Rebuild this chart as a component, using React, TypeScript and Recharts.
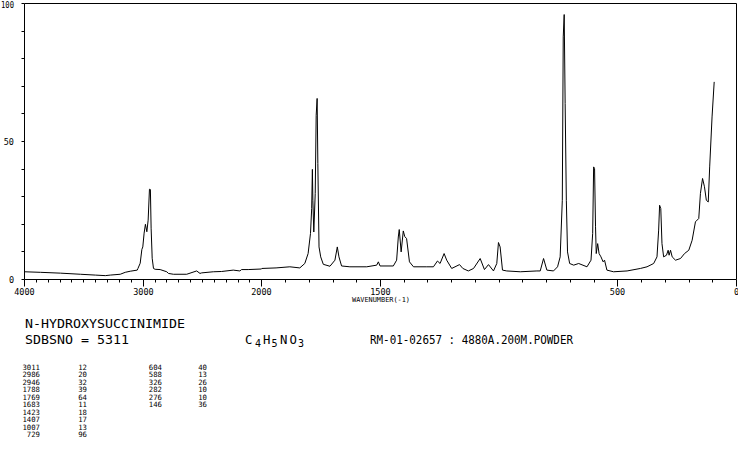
import React from 'react';
import { LineChart, Line, XAxis, YAxis, ReferenceLine } from 'recharts';

// spectrum (cm-1, relative intensity)
const wavenumbers = [
  4000, 3866, 3697, 3529, 3403, 3319, 3277, 3193, 3151, 3109, 3050, 3044, 3025, 3011, 3003,
  2992, 2981, 2969, 2958, 2947, 2939, 2933, 2924, 2913, 2899, 2857, 2801, 2787, 2745, 2633,
  2549, 2521, 2507, 2409, 2339, 2241, 2185, 2171, 2115, 2003, 2000, 1940, 1882, 1840, 1819,
  1805, 1795, 1790, 1787, 1785, 1781, 1775, 1771, 1767, 1764, 1759, 1752, 1741, 1713, 1692,
  1682, 1675, 1664, 1629, 1558, 1516, 1509, 1502, 1446, 1432, 1425, 1421, 1413, 1404, 1398,
  1390, 1378, 1361, 1305, 1277, 1260, 1249, 1232, 1221, 1200, 1167, 1153, 1130, 1108, 1080,
  1062, 1045, 1024, 1010, 1003, 996, 986, 968, 911, 841, 827, 813, 799, 771, 754,
  743, 734, 730, 726, 722, 717, 712, 703, 686, 665, 630, 613, 606, 602, 598,
  594, 591, 585, 579, 571, 562, 556, 546, 518, 461, 405, 377, 349, 335, 328,
  324, 319, 314, 307, 295, 288, 284, 278, 271, 257, 236, 219, 201, 187, 173,
  159, 152, 143, 135, 127, 119, 113, 103, 94,
];
const intensities = [
  2.8, 2.6, 2.3, 1.9, 1.6, 1.4, 1.6, 1.9, 2.6, 3.0, 3.4, 4.0, 5.9, 10.9, 11.8,
  16.8, 20.0, 17.3, 21.5, 32.7, 32.6, 18.6, 7.7, 4.0, 3.7, 3.6, 2.8, 2.2, 1.9, 1.9,
  3.1, 2.2, 2.4, 2.8, 2.9, 3.4, 3.1, 3.6, 3.6, 3.8, 4.0, 4.2, 4.6, 4.2, 5.8,
  9.4, 16.7, 25.7, 39.9, 28.7, 17.2, 31.2, 59.5, 65.6, 42.0, 11.8, 8.2, 5.5, 4.8, 7.0,
  11.8, 8.2, 4.9, 4.6, 4.6, 5.2, 6.4, 4.9, 4.9, 7.0, 15.4, 18.1, 10.0, 17.6, 15.6,
  14.8, 6.4, 4.6, 4.6, 4.6, 6.7, 5.8, 9.4, 7.0, 4.0, 5.4, 4.0, 3.1, 4.0, 7.6,
  3.6, 5.4, 3.1, 5.8, 13.4, 11.8, 3.4, 3.1, 2.8, 3.1, 3.1, 7.6, 3.4, 3.1, 4.6,
  8.2, 28.7, 87.9, 96.0, 63.8, 28.7, 10.0, 5.8, 5.2, 5.8, 4.6, 7.0, 16.7, 40.8, 40.2,
  19.1, 9.4, 13.0, 9.4, 8.2, 6.4, 7.0, 3.4, 2.8, 3.1, 4.0, 4.6, 5.8, 8.2, 17.9,
  26.9, 25.7, 13.0, 8.2, 8.8, 10.6, 8.8, 10.6, 8.2, 7.0, 7.6, 9.4, 10.6, 14.2, 20.9,
  22.1, 31.2, 36.6, 33.6, 28.7, 28.1, 40.8, 58.9, 71.6,
];

const peakWavenumbers = [3011, 2986, 2946, 1788, 1769, 1683, 1423, 1407, 1007, 729, 604, 588, 326, 282, 276, 146];
const peakIntensities = [12, 20, 32, 39, 64, 11, 18, 17, 13, 96, 40, 13, 26, 10, 10, 36];

const xLabels = [4000, 3000, 2000, 1500, 500, 0];
const xTicks = Array.from({ length: 41 }, (_, i) => 4000 - i * 100);
const yTicks = [0, 10, 20, 30, 40, 50, 60, 70, 80, 90, 100];
const yLabels = [0, 50, 100];

const mono = '"DejaVu Sans Mono", "Liberation Mono", monospace';

// the scale above 2000 cm-1 is compressed by half
const toPos = (w: number) => (w > 2000 ? 2000 + (w - 2000) / 2 : w);
const fromPos = (p: number) => (p > 2000 ? 2000 + (p - 2000) * 2 : p);

const data = wavenumbers.map((w, i) => ({ pos: toPos(w), v: intensities[i] }));

const crisp = (n: number) => Math.round(n - 0.5) + 0.5;

const XTick = (props: any) => {
  const { x, y, payload } = props;
  const w = Math.round(fromPos(payload.value));
  const major = xLabels.includes(w);
  const cx = crisp(x);
  return (
    <g>
      <line x1={cx} x2={cx} y1={y} y2={y + (major ? 7 : 3)} stroke="#000" strokeWidth={1} />
      {major && (
        <text x={cx} y={y + 15} textAnchor="middle" fontSize={8.5} fontFamily={mono} fill="#000">
          {w}
        </text>
      )}
    </g>
  );
};

const YTick = (props: any) => {
  const { x, y, payload } = props;
  const cy = crisp(y);
  const top = payload.value === 100;
  // keep the top label inside the picture
  const ly = top ? cy + 1.5 : cy;
  return (
    <g>
      <line x1={x - 3} x2={x} y1={cy} y2={cy} stroke="#000" strokeWidth={1} />
      {yLabels.includes(payload.value) && (
        <text
          x={x - 10.5}
          y={ly}
          dy="0.36em"
          textAnchor="end"
          fontSize={8.5}
          fontFamily={mono}
          fill="#000"
          {...(top ? { textLength: 13, lengthAdjust: 'spacingAndGlyphs' } : {})}
        >
          {payload.value}
        </text>
      )}
    </g>
  );
};

const leftCol = peakWavenumbers.slice(0, 10);
const rightCol = peakWavenumbers.slice(10);

export default function App() {
  return (
    <div style={{ position: 'absolute', left: 0, top: 0, width: 738, height: 457, background: '#fff' }}>
      <LineChart width={738} height={300} data={data} margin={{ top: 3.5, right: 1.5, left: 0.5, bottom: 0.5 }}>
        <XAxis
          dataKey="pos"
          type="number"
          domain={[0, 3000]}
          reversed
          ticks={xTicks.map(toPos)}
          interval={0}
          tick={<XTick />}
          tickLine={false}
          tickSize={0}
          tickMargin={0}
          height={20}
          axisLine={{ stroke: '#000', strokeWidth: 1 }}
          allowDataOverflow
        />
        <YAxis
          type="number"
          domain={[0, 100]}
          ticks={yTicks}
          interval={0}
          tick={<YTick />}
          tickLine={false}
          tickSize={0}
          tickMargin={0}
          width={24}
          axisLine={{ stroke: '#000', strokeWidth: 1 }}
          allowDataOverflow
        />
        <ReferenceLine y={100} stroke="#000" strokeWidth={1} />
        <ReferenceLine x={0} stroke="#000" strokeWidth={1} />
        <Line
          dataKey="v"
          type="linear"
          stroke="#000"
          strokeWidth={1}
          dot={false}
          activeDot={false}
          isAnimationActive={false}
        />
      </LineChart>
      <svg width={738} height={457} style={{ position: 'absolute', left: 0, top: 0, pointerEvents: 'none' }}>
        <g fontFamily={mono} fill="#000">
          <text x={352} y={302} fontSize={7} textLength={58} lengthAdjust="spacingAndGlyphs">
            WAVENUMBER(-1)
          </text>
          <text x={25} y={328} fontSize={12.3} textLength={160} lengthAdjust="spacingAndGlyphs">
            N-HYDROXYSUCCINIMIDE
          </text>
          <text x={25} y={344} fontSize={12.3} textLength={104} lengthAdjust="spacingAndGlyphs">
            SDBSNO = 5311
          </text>
          <text x={245} y={344} fontSize={12.3}>C</text>
          <text x={255} y={347} fontSize={10}>4</text>
          <text x={263} y={344} fontSize={12.3}>H</text>
          <text x={271.5} y={347} fontSize={10}>5</text>
          <text x={280} y={344} fontSize={12.3}>N</text>
          <text x={289.5} y={344} fontSize={12.3}>O</text>
          <text x={298} y={347} fontSize={10}>3</text>
          <text x={370} y={344} fontSize={12.3} textLength={203} lengthAdjust="spacingAndGlyphs">
            RM-01-02657 : 4880A.200M.POWDER
          </text>
          {leftCol.map((w, i) => (
            <g key={`l${w}`} fontSize={7.3}>
              <text x={40} y={369.5 + i * 7.55} textAnchor="end">{w}</text>
              <text x={87} y={369.5 + i * 7.55} textAnchor="end">{peakIntensities[i]}</text>
            </g>
          ))}
          {rightCol.map((w, i) => (
            <g key={`r${w}`} fontSize={7.3}>
              <text x={162} y={369.5 + i * 7.55} textAnchor="end">{w}</text>
              <text x={207} y={369.5 + i * 7.55} textAnchor="end">{peakIntensities[i + 10]}</text>
            </g>
          ))}
        </g>
      </svg>
    </div>
  );
}
